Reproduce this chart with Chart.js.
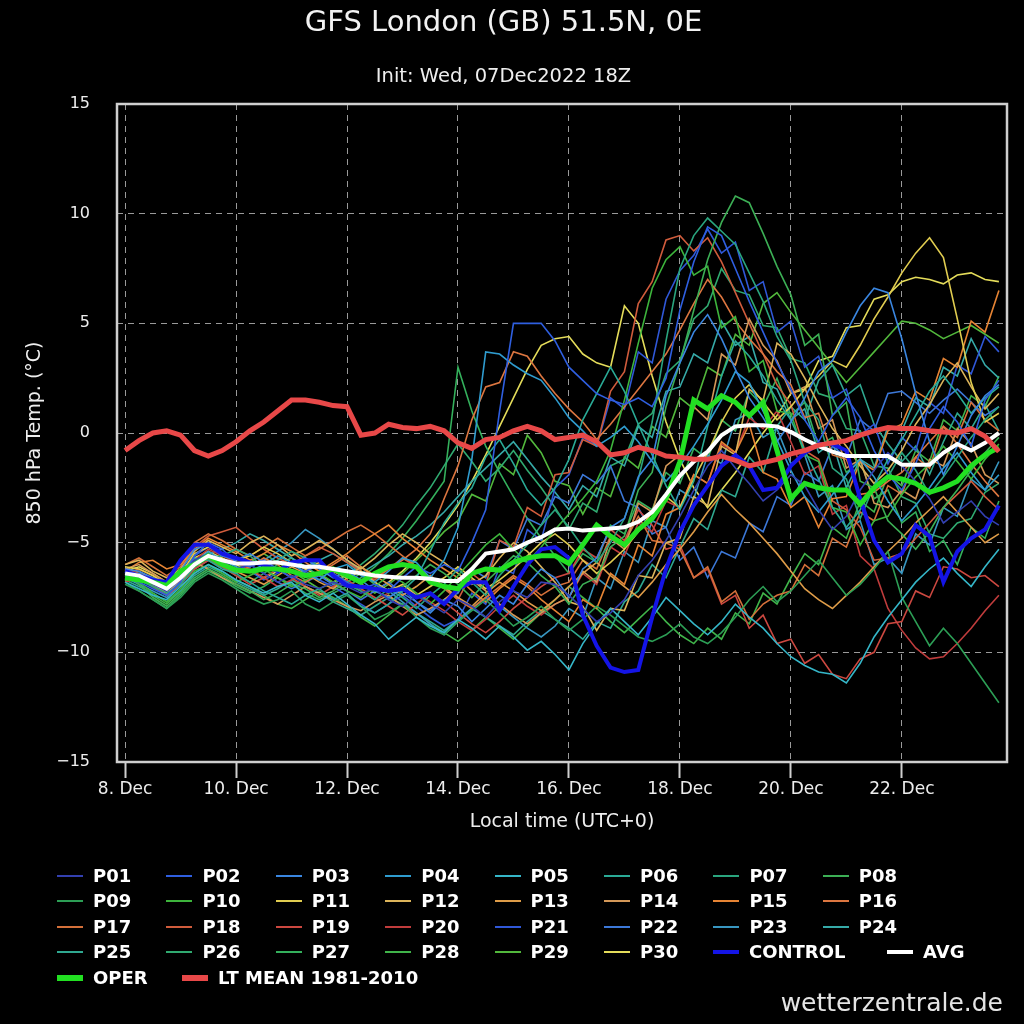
<!DOCTYPE html>
<html>
<head>
<meta charset="utf-8">
<script src="https://cdn.jsdelivr.net/npm/chart.js@4.4.0/dist/chart.umd.min.js"></script>
<style>
  body { margin: 0; background: #000; }
  #wrap { position: relative; width: 1024px; height: 1024px; background: #000; overflow: hidden; }
  #chart { position: absolute; left: 0; top: 0; }
  #legend { position: absolute; left: 0; top: 0; width: 1024px; height: 1024px; pointer-events: none;
            font-family: 'DejaVu Sans', sans-serif; font-weight: bold; font-size: 18px; color: #fff; }
  .item { position: absolute; white-space: nowrap; line-height: 20px; }
  .swatch { position: absolute; width: 26px; }
  #brand { position: absolute; right: 21px; top: 988px; font-family: 'DejaVu Sans', sans-serif;
           font-size: 25px; color: #e4e4e4; }
</style>
</head>
<body>
<div id="wrap">
  <canvas id="chart" width="1024" height="1024"></canvas>
  <div id="legend"></div>
  <div id="brand">wetterzentrale.de</div>
</div>
<script>
// hours after 8 Dec 2022 00Z, 6-hourly
const hours = [0,6,12,18,24,30,36,42,48,54,60,66,72,78,84,90,96,102,108,114,120,126,132,138,
  144,150,156,162,168,174,180,186,192,198,204,210,216,222,228,234,240,246,252,258,264,270,276,282,
  288,294,300,306,312,318,324,330,336,342,348,354,360,366,372,378];

const tickHours = [0, 48, 96, 144, 192, 240, 288, 336];
const tickLabels = ['8. Dec', '10. Dec', '12. Dec', '14. Dec', '16. Dec', '18. Dec', '20. Dec', '22. Dec'];

const P01 = [-6.4,-6.6,-6.9,-7.2,-6.5,-5.8,-5.5,-5.9, -6.2,-6.0,-6.4,-6.8,-6.5,-6.9,-7.1,-6.8,
  -7.0,-7.3,-7.1,-7.6,-7.9,-7.4,-7.8,-8.2, -7.6,-7.9,-8.4,-7.7,-7.2,-7.5,-6.8,-6.9,
  -7.4,-8.0,-8.6,-8.2,-7.6,-6.5,-5.8,-4.9, -3.8,-2.6,-1.5,-0.8,-1.6,-2.3,-3.1,-2.6,
  -1.9,-2.4,-3.5,-4.4,-3.8,-2.6,-1.7,-0.9, -1.5,-2.2,-3.0,-4.1,-3.6,-3.1,-3.8,-4.2];
const P02 = [-6.6,-6.8,-7.1,-7.4,-6.8,-5.6,-5.0,-5.3, -5.9,-6.1,-5.8,-6.2,-6.6,-6.3,-6.0,-6.4,
  -6.8,-7.1,-6.9,-7.2,-6.6,-6.1,-6.4,-6.0, -6.3,-5.0,-3.5,1.0,5.0,5.0,5.0,4.2,
  3.0,2.4,1.8,1.5,1.3,1.6,1.2,2.5, 5.6,7.8,9.4,9.0,7.5,6.0,4.6,3.2,
  2.0,0.6,-0.4,0.8,1.6,0.7,-0.8,-1.9, -2.6,-1.4,0.2,1.2,0.5,-0.6,1.5,2.4];
const P03 = [-6.2,-6.3,-6.6,-6.9,-6.3,-5.3,-5.1,-5.6, -5.8,-5.5,-5.9,-6.3,-6.0,-5.7,-6.2,-6.6,
  -6.3,-6.7,-7.2,-7.5,-7.1,-7.7,-8.2,-7.6, -7.9,-8.6,-8.0,-7.4,-7.8,-6.9,-6.2,-6.6,
  -7.5,-6.2,-5.7,-4.3,-3.9,-2.0,-1.2,1.7, 3.2,4.6,5.4,4.3,2.9,1.6,0.7,-0.4,
  0.5,1.6,2.8,3.3,4.6,5.8,6.6,6.4, 4.3,1.8,-0.4,-1.9,-0.6,0.8,1.7,2.2];
const P04 = [-6.5,-6.4,-6.7,-7.0,-6.6,-5.9,-5.4,-5.8, -6.1,-6.3,-6.0,-5.6,-5.9,-6.4,-6.7,-6.2,
  -6.0,-6.5,-6.8,-6.3,-5.7,-5.9,-6.6,-5.8, -4.3,-1.2,3.7,3.6,3.1,2.7,2.4,1.6,
  0.7,0.1,-0.6,-0.2,0.3,-0.4,-1.3,-2.2, -1.5,-0.6,0.4,1.5,2.8,2.3,1.0,-0.3,
  -1.7,-2.9,-3.6,-2.8,-1.9,-1.2,-2.0,-3.1, -4.0,-3.3,-2.5,-1.6,-0.9,-1.8,-2.6,-1.9];
const P05 = [-6.8,-7.1,-7.4,-7.6,-7.0,-6.4,-6.0,-6.3, -6.7,-7.0,-7.3,-7.0,-6.8,-7.4,-7.7,-7.3,
  -7.8,-8.3,-8.7,-9.4,-8.9,-8.4,-8.8,-9.1, -8.5,-8.9,-9.4,-8.8,-9.3,-9.9,-9.5,-10.1,
  -10.8,-9.6,-8.7,-8.0,-8.6,-9.2,-8.4,-7.5, -8.1,-8.7,-9.2,-8.6,-7.8,-8.4,-8.9,-9.6,
  -10.2,-10.6,-10.9,-11.0,-11.4,-10.5,-9.3,-8.4, -7.6,-6.8,-6.2,-5.7,-6.4,-7.0,-6.1,-5.3];
const P06 = [-6.3,-6.5,-6.8,-7.1,-6.4,-5.7,-5.8,-6.2, -6.4,-6.8,-7.2,-7.5,-7.8,-7.4,-7.1,-7.6,
  -7.3,-7.9,-8.2,-7.8,-7.2,-6.6,-5.4,-4.1, -3.2,-2.5,-1.1,-0.3,-1.4,-2.6,-3.3,-2.5,
  -1.2,0.6,1.8,3.0,1.9,0.4,-1.0,-2.4, -3.5,-2.2,0.3,2.6,4.2,3.5,2.6,1.5,
  0.6,-0.8,-2.1,-3.4,-4.3,-3.5,-2.4,-1.2, -0.3,0.8,1.9,2.6,1.8,0.9,1.6,2.1];
const P07 = [-6.6,-6.7,-7.0,-7.3,-6.9,-6.1,-5.7,-5.6, -5.3,-5.6,-6.1,-5.8,-5.4,-5.7,-6.1,-6.4,
  -6.9,-7.2,-7.6,-7.1,-7.5,-8.0,-7.4,-6.9, -6.2,-6.8,-7.4,-6.5,-5.8,-5.1,-4.2,-3.5,
  -4.3,-5.2,-5.9,-5.0,-3.9,-2.1,0.5,4.2, 7.5,9.0,9.8,9.2,8.6,7.3,6.0,4.4,
  3.3,1.4,0.6,-1.6,-2.1,-3.9,-2.4,-2.0, -0.9,-1.7,-2.8,-2.0,-1.1,-0.2,0.6,1.2];
const P08 = [-6.4,-6.9,-7.5,-7.9,-7.3,-6.6,-6.2,-6.5, -6.9,-7.2,-7.6,-7.3,-6.9,-7.1,-7.5,-7.2,
  -6.8,-6.4,-6.9,-7.3,-7.0,-6.5,-6.0,-6.4, -6.9,-7.5,-6.8,-6.2,-5.6,-5.9,-6.5,-7.0,
  -7.8,-6.9,-6.6,-5.2,-4.7,-2.6,-1.8,1.2, 3.2,5.6,7.9,9.6,10.8,10.5,9.1,7.6,
  6.3,4.0,4.5,0.8,1.4,-2.2,-2.5,-4.0, -4.6,-5.3,-4.5,-3.4,-2.6,-1.7,-0.9,-0.2];
const P09 = [-6.9,-7.2,-7.6,-8.0,-7.5,-6.8,-6.4,-6.7, -7.1,-7.5,-7.8,-7.6,-7.2,-7.8,-8.1,-7.7,
  -7.4,-7.9,-8.5,-8.2,-7.8,-8.4,-8.9,-9.2, -8.6,-8.1,-7.6,-8.2,-8.8,-8.4,-7.9,-8.5,
  -9.0,-8.5,-7.9,-8.3,-8.8,-9.3,-9.5,-9.2, -8.7,-9.3,-9.6,-9.1,-8.4,-7.6,-7.0,-7.7,
  -7.2,-6.5,-5.8,-6.6,-7.4,-6.9,-6.2,-5.4, -7.5,-8.6,-9.7,-8.9,-9.6,-10.5,-11.4,-12.3];
const P10 = [-6.5,-6.8,-7.3,-7.7,-7.1,-6.3,-6.0,-6.4, -6.8,-6.5,-6.2,-6.6,-7.0,-6.7,-6.4,-6.8,
  -7.2,-7.5,-7.0,-6.5,-6.8,-7.3,-7.8,-7.2, -6.5,-5.8,-5.1,-4.6,-5.3,-5.9,-5.2,-4.4,
  -3.7,-3.0,-2.2,-0.8,1.5,4.1,6.6,7.9, 8.5,7.2,7.6,4.8,5.3,2.8,3.3,1.0,
  0.9,-1.0,-1.3,-3.4,-3.6,-5.1,-4.0,-3.8, -2.8,-2.0,-1.4,-0.6,-1.3,-2.1,-1.2,-0.5];
const P11 = [-6.1,-6.2,-6.5,-6.9,-6.4,-5.5,-5.2,-5.5, -5.8,-5.6,-5.2,-5.5,-5.9,-6.2,-5.9,-6.3,
  -6.6,-6.3,-6.8,-7.2,-6.9,-7.4,-7.0,-6.6, -6.1,-6.6,-7.1,-6.7,-6.2,-5.6,-5.0,-4.6,
  -5.1,-5.8,-6.4,-5.9,-5.3,-4.5,-3.6,-2.9, -3.4,-2.1,-0.9,0.5,1.6,2.2,1.4,0.6,
  1.2,2.0,2.6,3.3,3.0,4.0,5.2,6.2, 7.3,8.2,8.9,8.0,5.2,2.3,0.5,0.9];
const P12 = [-6.0,-5.8,-6.3,-6.6,-6.2,-5.4,-4.9,-5.2, -5.5,-5.0,-4.7,-5.1,-5.6,-5.3,-4.9,-5.3,
  -5.8,-6.2,-5.7,-5.1,-4.6,-5.0,-5.5,-5.9, -6.4,-6.9,-6.5,-5.7,-5.0,-5.4,-6.1,-6.8,
  -7.7,-7.9,-9.0,-8.0,-8.1,-6.5,-6.6,-5.0, -4.8,-2.9,-3.3,-0.6,-1.0,2.0,1.5,4.1,
  3.6,2.5,1.3,0.2,-0.6,-1.5,-2.3,-1.7, -0.8,0.4,1.3,2.4,3.2,2.1,1.1,1.8];
const P13 = [-6.7,-6.5,-6.9,-7.3,-6.8,-6.1,-5.6,-5.9, -6.3,-6.6,-6.9,-6.5,-6.1,-6.4,-6.8,-7.1,
  -6.6,-6.1,-6.5,-6.9,-7.4,-7.0,-6.5,-7.0, -7.5,-7.9,-7.3,-6.8,-7.2,-7.7,-8.1,-7.6,
  -7.0,-6.4,-5.9,-6.5,-7.0,-7.5,-6.8,-6.0, -5.3,-4.5,-3.6,-2.8,-3.5,-4.1,-4.8,-5.5,
  -6.3,-7.1,-7.6,-8.0,-7.4,-6.8,-6.1,-5.4, -4.8,-4.1,-3.5,-2.9,-3.6,-4.3,-5.0,-4.6];
const P14 = [-6.2,-6.0,-6.4,-6.8,-6.3,-5.9,-6.2,-6.6, -6.9,-7.2,-7.5,-7.8,-7.4,-7.0,-7.3,-7.6,
  -7.9,-8.1,-7.7,-7.4,-7.9,-8.3,-8.0,-7.6, -7.1,-6.7,-7.2,-7.8,-8.3,-8.7,-8.2,-7.8,
  -7.5,-6.3,-6.8,-4.8,-5.3,-3.2,-3.6,-1.5, -1.0,1.2,0.6,3.6,3.1,5.2,4.0,3.3,
  1.8,2.1,0.2,0.6,-1.6,-1.2,-3.2,-3.4, -2.6,-3.0,-1.2,-1.5,0.2,-0.5,-1.9,-2.3];
const P15 = [-6.3,-5.9,-5.8,-6.2,-6.0,-5.3,-4.8,-5.1, -5.4,-5.8,-5.5,-5.1,-5.4,-5.9,-6.3,-5.9,
  -5.5,-5.0,-4.6,-4.2,-4.8,-5.3,-5.8,-6.2, -6.6,-7.2,-7.7,-7.1,-6.6,-7.0,-7.6,-8.1,
  -8.6,-7.6,-8.0,-6.4,-6.9,-5.1,-5.6,-3.7, -3.4,-1.9,-2.3,-0.4,-0.9,0.4,-1.8,-2.1,
  -3.4,-2.9,-4.3,-3.0,-2.9,-1.3,-1.7,0.1, 0.4,1.9,1.5,3.4,3.0,5.1,4.6,6.5];
const P16 = [-6.5,-6.3,-6.7,-7.1,-6.6,-6.0,-5.7,-6.0, -6.4,-6.1,-5.7,-6.0,-6.5,-6.8,-6.4,-6.0,
  -5.6,-6.1,-6.6,-6.2,-5.8,-5.3,-4.6,-3.0, -1.5,0.6,2.1,2.3,3.7,3.5,2.6,1.8,
  1.1,0.5,-0.3,0.4,1.2,2.0,2.8,3.6, 4.7,5.9,7.0,6.2,5.1,4.3,3.6,2.8,
  2.2,0.7,0.9,-1.0,-1.2,-2.8,-2.7,-2.2, -1.8,-1.1,-0.4,0.3,-0.5,-1.4,-2.2,-2.9];
const P17 = [-6.0,-5.7,-6.1,-6.5,-6.1,-5.0,-4.6,-4.9, -5.3,-5.6,-5.2,-4.8,-5.2,-5.6,-5.3,-4.9,
  -4.5,-4.2,-4.6,-5.1,-5.6,-6.1,-6.6,-7.1, -7.6,-8.0,-7.5,-7.0,-6.5,-6.9,-7.4,-7.0,
  -6.8,-5.8,-6.2,-4.7,-5.0,-3.8,-4.9,-5.0, -5.3,-6.6,-6.1,-7.7,-7.2,-8.5,-7.8,-7.4,
  -7.2,-6.0,-6.5,-4.8,-5.2,-3.6,-4.0,-2.4, -2.8,-1.1,-1.6,0.3,-0.2,1.4,0.6,0.1];
const P18 = [-6.4,-6.2,-6.5,-6.9,-6.2,-5.2,-4.7,-4.5, -4.3,-4.8,-5.3,-5.7,-6.0,-5.6,-5.2,-5.5,
  -5.9,-6.3,-6.7,-6.2,-5.7,-6.1,-6.6,-7.0, -7.6,-6.4,-6.9,-4.9,-5.2,-3.4,-3.8,-1.9,
  -1.8,-0.3,-0.6,1.9,2.8,5.9,6.9,8.8, 9.0,8.3,8.9,7.8,6.4,5.0,3.6,2.2,
  1.3,-0.8,-1.2,-3.1,-3.5,-4.3,-5.8,-5.7, -5.5,-4.8,-4.1,-3.4,-2.8,-2.2,-2.9,-3.5];
const P19 = [-6.8,-6.6,-7.0,-7.4,-6.9,-6.2,-5.8,-6.1, -6.5,-6.9,-6.6,-6.2,-6.6,-7.0,-7.4,-7.0,
  -6.7,-7.1,-7.5,-7.9,-8.3,-7.8,-7.3,-7.7, -8.2,-8.7,-9.1,-8.6,-8.0,-7.5,-7.0,-6.6,
  -6.4,-5.3,-5.7,-4.4,-4.9,-3.5,-4.2,-5.3, -5.1,-6.6,-6.2,-7.8,-7.4,-8.9,-8.3,-9.6,
  -9.4,-10.5,-10.1,-11.0,-11.2,-10.3,-10.0,-8.7, -8.6,-7.2,-7.5,-6.1,-6.2,-6.6,-6.5,-7.0];
const P20 = [-6.2,-6.4,-6.8,-7.1,-6.7,-5.8,-5.3,-5.6, -5.9,-6.2,-6.6,-7.0,-6.7,-6.3,-6.0,-6.4,
  -6.8,-7.2,-7.6,-7.3,-6.9,-7.3,-7.7,-8.1, -8.6,-9.0,-8.5,-7.9,-7.4,-7.9,-8.3,-7.8,
  -7.5,-6.4,-6.9,-5.2,-5.6,-4.1,-4.5,-3.1, -3.4,-1.9,-2.3,-0.5,-0.9,0.7,0.2,1.0,
  -0.4,-1.9,-1.5,-3.7,-3.3,-5.6,-6.2,-8.0, -9.0,-9.8,-10.3,-10.2,-9.6,-8.9,-8.1,-7.4];
const P21 = [-6.3,-6.5,-6.9,-7.2,-6.5,-5.6,-5.2,-5.5, -5.9,-6.3,-6.7,-6.4,-6.0,-6.3,-6.7,-7.0,
  -7.4,-7.8,-8.2,-7.8,-7.4,-7.9,-8.4,-8.8, -8.5,-7.3,-7.8,-6.1,-6.4,-4.4,-4.9,-2.5,
  -1.9,-0.2,-0.6,1.6,1.1,3.7,3.2,6.1, 7.4,8.1,9.3,8.2,8.7,6.5,6.9,4.6,
  5.1,3.0,3.5,1.6,2.0,-0.1,0.4,-1.4, -0.2,-0.8,1.4,0.9,3.1,2.7,4.4,3.7];
const P22 = [-6.5,-6.7,-7.0,-7.3,-6.7,-5.9,-5.5,-5.9, -6.3,-6.0,-6.4,-6.8,-7.1,-6.8,-6.5,-6.9,
  -7.2,-7.6,-7.2,-6.8,-7.3,-7.7,-8.1,-7.6, -7.3,-6.2,-6.6,-4.9,-5.3,-3.9,-4.2,-2.9,
  -3.2,-1.9,-2.3,-1.5,-3.1,-3.4,-4.6,-4.3, -5.8,-5.2,-6.6,-5.4,-5.7,-4.1,-4.5,-2.9,
  -3.3,-1.8,-2.2,-0.6,-1.1,0.6,0.1,1.8, 1.9,1.4,0.9,1.5,2.0,1.4,0.8,1.2];
const P23 = [-6.6,-6.9,-7.2,-7.5,-6.9,-6.2,-5.8,-6.1, -6.4,-6.1,-5.8,-5.4,-5.0,-4.4,-4.8,-5.3,
  -5.8,-6.3,-6.8,-7.2,-7.7,-8.2,-8.7,-9.2, -8.6,-8.0,-7.5,-7.9,-8.4,-8.9,-9.3,-8.8,
  -8.0,-8.4,-6.6,-7.1,-5.4,-5.9,-4.0,-4.3, -2.6,-3.0,-1.0,-1.4,0.6,0.9,-0.2,0.2,
  -1.4,-1.0,-2.9,-2.4,-4.4,-4.0,-6.0,-5.7, -6.4,-4.6,-5.1,-3.4,-3.8,-2.1,-2.6,-1.3];
const P24 = [-6.4,-6.6,-6.9,-7.1,-6.6,-5.9,-5.5,-5.3, -5.0,-4.6,-4.9,-5.3,-5.7,-6.1,-5.8,-5.5,
  -5.9,-6.4,-6.0,-5.6,-5.1,-4.7,-4.2,-3.6, -2.9,-2.2,-1.6,-1.0,-0.4,-1.2,-2.0,-2.7,
  -3.5,-2.4,-2.9,-1.1,-1.5,0.3,-0.2,1.9, 2.1,3.6,3.2,5.1,4.0,4.4,2.3,2.0,
  0.6,1.1,-0.9,-0.4,-2.5,-1.2,-1.6,0.3, 0.1,1.6,1.2,3.0,2.6,4.3,3.1,2.5];
const P25 = [-6.7,-7.0,-7.3,-7.7,-7.2,-6.5,-6.1,-6.4, -6.8,-7.1,-7.4,-7.1,-6.7,-7.0,-7.3,-7.7,
  -8.0,-8.3,-7.9,-7.5,-7.8,-8.2,-8.6,-9.0, -8.5,-8.0,-8.4,-8.8,-9.2,-8.6,-8.1,-8.5,
  -8.9,-9.4,-8.6,-8.9,-7.7,-7.2,-6.0,-6.6, -5.2,-3.9,-4.4,-2.6,-2.9,-1.1,-1.8,0.3,
  1.2,0.6,2.4,3.1,1.7,2.2,0.4,-0.5, -1.3,-0.6,-1.9,-0.4,0.9,0.2,1.3,0.1];
const P26 = [-6.2,-6.5,-6.9,-7.3,-6.8,-6.0,-5.7,-6.1, -6.5,-6.8,-6.4,-6.0,-5.7,-6.1,-6.5,-6.9,
  -6.5,-6.0,-5.5,-4.9,-4.2,-3.3,-2.5,-1.5, -0.5,-1.3,-2.2,-1.6,-0.8,-1.7,-2.5,-3.4,
  -4.4,-3.2,-3.6,-1.5,-1.2,0.4,0.9,2.7, 3.3,5.2,5.8,7.5,6.5,6.3,4.9,4.8,
  3.4,3.2,1.8,1.6,0.2,0.1,-1.5,-1.6, -2.9,-3.2,-4.6,-4.8,-4.1,-3.9,-2.7,-2.3];
const P27 = [-6.8,-7.2,-7.6,-8.0,-7.4,-6.7,-6.3,-6.6, -7.0,-7.3,-7.0,-6.6,-6.9,-7.3,-7.6,-7.3,
  -7.0,-6.6,-6.1,-5.5,-4.8,-4.0,-3.1,-2.2, 3.0,1.0,-0.6,-1.8,-2.9,-3.9,-4.8,-5.6,
  -6.4,-5.5,-5.9,-4.2,-4.6,-3.1,-3.5,-1.8, -2.3,-0.7,-1.2,0.6,0.1,1.9,1.2,2.5,
  0.8,1.4,-0.6,-0.2,-1.8,-1.3,-3.0,-2.6, -4.1,-3.6,-5.4,-4.9,-6.0,-4.3,-4.8,-3.1];
const P28 = [-6.5,-6.9,-7.4,-7.8,-7.2,-6.4,-6.0,-6.3, -6.7,-7.0,-7.4,-7.8,-8.0,-7.6,-7.2,-7.5,
  -7.9,-8.4,-8.8,-8.3,-7.8,-8.2,-8.7,-9.1, -9.5,-9.0,-8.4,-8.9,-9.4,-8.8,-8.2,-7.6,
  -7.0,-7.5,-8.0,-8.6,-9.1,-8.5,-7.9,-8.6, -9.2,-9.6,-8.9,-9.4,-8.2,-8.7,-7.3,-7.8,
  -6.6,-5.5,-6.0,-4.3,-4.8,-3.1,-3.6,-1.9, -2.4,-0.8,-1.3,0.6,0.1,1.7,1.2,2.6];
const P29 = [-6.3,-6.6,-7.0,-7.4,-6.9,-6.1,-5.6,-5.9, -6.2,-5.9,-5.5,-5.9,-6.3,-6.7,-7.1,-6.8,
  -6.4,-6.9,-7.3,-6.9,-6.4,-5.8,-5.2,-4.5, -4.0,-2.8,-3.1,-1.4,-1.9,-0.1,-0.9,-2.2,
  -2.4,-3.7,-2.5,-2.9,-1.1,-1.6,0.3,-0.2, 1.6,1.1,3.0,2.6,4.5,4.0,5.9,6.4,
  5.5,4.7,3.9,3.1,2.3,3.0,3.7,4.4, 5.1,5.0,4.7,4.3,4.6,4.9,4.5,4.1];
const P30 = [-6.3,-6.1,-6.4,-6.8,-6.4,-5.7,-5.4,-5.7, -6.0,-6.3,-6.6,-6.3,-5.9,-6.2,-6.5,-6.8,
  -6.5,-6.9,-7.2,-6.8,-6.3,-5.7,-5.0,-4.2, -3.3,-2.2,-1.0,0.3,1.6,2.9,4.0,4.3,
  4.4,3.6,3.2,3.0,5.8,5.0,2.6,0.5, -1.2,-2.5,-3.4,-2.6,-1.8,-0.9,0.0,0.8,
  1.8,2.0,3.3,3.5,4.8,4.9,6.1,6.3, 6.9,7.1,7.0,6.8,7.2,7.3,7.0,6.9];

const CONTROL = [-6.3,-6.5,-6.7,-6.8,-5.8,-5.1,-5.1,-5.5, -5.7,-5.9,-6.0,-6.3,-5.9,-5.8,-5.8,-6.5,
  -6.95,-7.0,-7.1,-7.2,-7.1,-7.5,-7.3,-7.8, -7.1,-6.8,-6.8,-8.1,-7.0,-6.0,-5.3,-5.2,
  -5.7,-8.3,-9.7,-10.7,-10.9,-10.8,-8.4,-6.2, -4.5,-3.3,-2.4,-1.5,-1.0,-1.5,-2.6,-2.5,
  -1.5,-0.9,-0.5,-0.5,-0.8,-3.0,-4.9,-5.9, -5.5,-4.2,-4.7,-6.8,-5.4,-4.8,-4.4,-3.3];
const AVG = [-6.4,-6.5,-6.8,-7.1,-6.6,-6.0,-5.6,-5.8, -5.95,-5.95,-5.9,-5.9,-6.0,-6.1,-6.1,-6.2,
  -6.3,-6.4,-6.5,-6.55,-6.6,-6.6,-6.65,-6.75, -6.75,-6.2,-5.5,-5.4,-5.3,-5.0,-4.75,-4.4,
  -4.35,-4.45,-4.4,-4.35,-4.3,-4.05,-3.6,-2.8, -1.95,-1.3,-0.85,-0.1,0.3,0.35,0.35,0.3,
  0.05,-0.3,-0.6,-0.85,-1.05,-1.05,-1.05,-1.05, -1.45,-1.45,-1.45,-0.9,-0.5,-0.8,-0.45,0.0];
const OPER = [-6.6,-6.7,-6.8,-6.95,-6.3,-6.0,-5.6,-6.0, -6.25,-6.3,-6.2,-6.2,-6.3,-6.5,-6.4,-6.2,
  -6.5,-6.8,-6.4,-6.1,-6.0,-6.1,-6.8,-7.0, -7.1,-6.4,-6.2,-6.25,-5.9,-5.7,-5.6,-5.6,
  -5.95,-5.1,-4.2,-4.7,-5.1,-4.4,-3.9,-3.0, -1.3,1.5,1.1,1.7,1.4,0.8,1.4,-0.8,
  -3.0,-2.3,-2.5,-2.6,-2.6,-3.25,-2.5,-2.0, -2.1,-2.3,-2.7,-2.5,-2.2,-1.5,-1.0,-0.65];
const LT_MEAN = [-0.8,-0.35,0.0,0.1,-0.1,-0.8,-1.05,-0.8, -0.4,0.1,0.5,1.0,1.5,1.5,1.4,1.25,
  1.2,-0.1,0.0,0.4,0.25,0.2,0.3,0.1, -0.45,-0.7,-0.3,-0.2,0.1,0.3,0.1,-0.3,
  -0.2,-0.1,-0.4,-1.0,-0.9,-0.65,-0.8,-1.05, -1.1,-1.2,-1.2,-1.05,-1.25,-1.5,-1.35,-1.2,
  -0.95,-0.8,-0.55,-0.45,-0.35,-0.1,0.1,0.25, 0.2,0.2,0.1,0.05,0.0,0.2,-0.15,-0.85];

const yTicks = [-15, -10, -5, 0, 5, 10, 15];

const members = [P01,P02,P03,P04,P05,P06,P07,P08,P09,P10,P11,P12,P13,P14,P15,
                 P16,P17,P18,P19,P20,P21,P22,P23,P24,P25,P26,P27,P28,P29,P30];
const memberColors = ['#3340b0','#2f5fe0','#3a86e0','#2f9ccf','#35b6c8','#2aaa96','#2aa57e','#3caf55',
  '#2c9e55','#3db43c','#e0cc50','#dcb45a','#de9c48','#d49858','#e68434','#dc7640','#d4703a','#d05c3c',
  '#cc4840','#c03c3c','#3058d8','#3c78d8','#3896c0','#36aaa8','#2fa890','#30aa70','#34b05c','#40b44a',
  '#52b83c','#e4dc5a'];

function toPoints(vals) {
    return hours.map((h, i) => ({ x: h, y: vals[i] }));
}

const datasets = members.map((vals, i) => ({
    label: 'P' + String(i + 1).padStart(2, '0'),
    data: toPoints(vals),
    borderColor: memberColors[i],
    borderWidth: 1.6,
    legendWidth: 2,
    order: 10
}));
datasets.push({ label: 'CONTROL', data: toPoints(CONTROL), borderColor: '#1414e6', borderWidth: 4, legendWidth: 4, order: 4 });
datasets.push({ label: 'AVG', data: toPoints(AVG), borderColor: '#ffffff', borderWidth: 4, legendWidth: 4, order: 2 });
datasets.push({ label: 'OPER', data: toPoints(OPER), borderColor: '#22e022', borderWidth: 5, legendWidth: 6, order: 3 });
datasets.push({ label: 'LT MEAN 1981-2010', data: toPoints(LT_MEAN), borderColor: '#e84848', borderWidth: 5, legendWidth: 6, order: 1 });

Chart.defaults.font.family = "'DejaVu Sans', sans-serif";
Chart.defaults.color = '#eeeeee';

const bgPlugin = {
    id: 'bg',
    beforeDraw(chart) {
        const ctx = chart.ctx;
        ctx.save();
        ctx.fillStyle = '#000';
        ctx.fillRect(0, 0, chart.width, chart.height);
        ctx.restore();
    }
};

const framePlugin = {
    id: 'frame',
    afterDatasetsDraw(chart) {
        const a = chart.chartArea;
        const ctx = chart.ctx;
        ctx.save();
        ctx.strokeStyle = '#cfcfcf';
        ctx.lineWidth = 2.5;
        ctx.strokeRect(a.left, a.top, a.right - a.left, a.bottom - a.top);
        ctx.restore();
    }
};

const chart = new Chart(document.getElementById('chart'), {
    type: 'line',
    data: { datasets: datasets },
    options: {
        responsive: false,
        animation: false,
        layout: { padding: { left: 0, right: 17, top: 0, bottom: 182 } },
        elements: { point: { radius: 0 }, line: { tension: 0 } },
        plugins: {
            legend: { display: false },
            tooltip: { enabled: false },
            title: {
                display: true,
                text: 'GFS London (GB) 51.5N, 0E',
                color: '#f2f2f2',
                font: { size: 29, weight: 'normal' },
                padding: { top: 5.6, bottom: 13 }
            },
            subtitle: {
                display: true,
                text: 'Init: Wed, 07Dec2022 18Z',
                color: '#eeeeee',
                font: { size: 19.5 },
                padding: { top: 11.9, bottom: 15.3 }
            }
        },
        scales: {
            x: {
                type: 'linear',
                min: -3.5,
                max: 381.5,
                afterBuildTicks: (scale) => { scale.ticks = tickHours.map(v => ({ value: v })); },
                afterFit: (scale) => { scale.height = 80; },
                ticks: {
                    autoSkip: false,
                    maxRotation: 0,
                    padding: 1,
                    color: '#eeeeee',
                    font: { size: 17 },
                    callback: (v, i) => tickLabels[i]
                },
                grid: {
                    color: '#9a9a9a',
                    lineWidth: 1,
                    drawTicks: true,
                    tickLength: 16,
                    tickColor: '#cfcfcf',
                    tickWidth: 2,
                    tickBorderDash: []
                },
                border: { display: false, dash: [6, 5] },
                title: {
                    display: true,
                    text: 'Local time (UTC+0)',
                    color: '#eeeeee',
                    font: { size: 19 },
                    padding: { top: 4, bottom: 8.6 }
                }
            },
            y: {
                min: -15,
                max: 15,
                afterBuildTicks: (scale) => { scale.ticks = yTicks.map(v => ({ value: v })); },
                afterFit: (scale) => { scale.width = 117; },
                ticks: {
                    padding: 27,
                    color: '#eeeeee',
                    font: { size: 16 },
                    callback: (v) => String(v).replace('-', '\u2212')
                },
                grid: { color: '#9a9a9a', lineWidth: 1, drawTicks: false },
                border: { display: false, dash: [6, 5] },
                title: {
                    display: true,
                    text: '850 hPa Temp. (°C)',
                    color: '#eeeeee',
                    font: { size: 19 },
                    padding: { top: 23.6, bottom: 4 }
                }
            }
        }
    },
    plugins: [bgPlugin, framePlugin]
});

// legend: 8 columns for the members; CONTROL+AVG and OPER+LT MEAN follow on as runs
function buildLegend() {
    const box = document.getElementById('legend');
    const colX = 93, colW = 109.4, rowY = 876, rowH = 25.4;
    const extraX = { 30: 749, 31: 923, 32: 93, 33: 218 };
    chart.data.datasets.forEach((ds, k) => {
        let textX, cy;
        if (k < 30) {
            textX = colX + (k % 8) * colW;
            cy = rowY + Math.floor(k / 8) * rowH;
        } else {
            textX = extraX[k];
            cy = rowY + (k < 32 ? 3 : 4) * rowH;
        }
        const sw = document.createElement('div');
        sw.className = 'swatch';
        sw.style.left = (textX - 36) + 'px';
        sw.style.top = (cy - ds.legendWidth / 2) + 'px';
        sw.style.height = ds.legendWidth + 'px';
        sw.style.background = ds.borderColor;
        box.appendChild(sw);
        const lab = document.createElement('div');
        lab.className = 'item';
        lab.style.left = textX + 'px';
        lab.style.top = (cy - 10) + 'px';
        lab.textContent = ds.label;
        box.appendChild(lab);
    });
}
buildLegend();
</script>
</body>
</html>
